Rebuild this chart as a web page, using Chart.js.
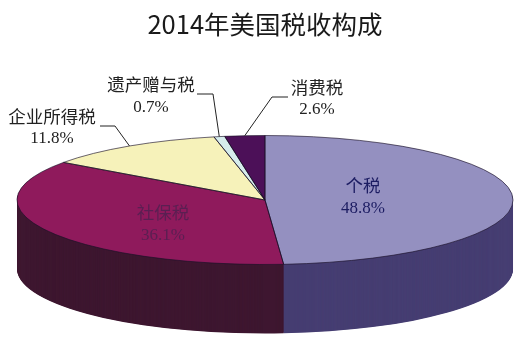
<!DOCTYPE html>
<html>
<head>
<meta charset="utf-8">
<style>html,body{margin:0;padding:0;background:#fff}canvas{display:block}</style>
<script src="https://cdn.jsdelivr.net/npm/chart.js@4"></script>
</head>
<body>
<canvas id="c" width="529" height="353"></canvas>
<script>
const categories = ['个税', '社保税', '企业所得税', '遗产赠与税', '消费税'];
const shares = [48.8, 36.1, 11.8, 0.7, 2.6];
const topColors = ['#9490c0', '#8f1a5c', '#f6f2ba', '#d6ecec', '#4c1058'];
const sideColors = ['#463e72', '#3e1730', '#7a7650', '#6a7676', '#260828'];
const title = '2014年美国税收构成';

// Presentation constants (not data)
const RADIUS = 100, SX = 2.48, SY = 0.645, DEPTH = 69;
const labelAt = [[363, 185, 209], [163, 212, 236], [52, 116, 139], [151, 84, 108], [317, 87, 110]];
const labelInk = ['#1c1c62', '#5a1f52', '#222', '#222', '#222'];
const leaderFrom = [null, null, [[100, 126], [115, 126]], [[197, 94], [213, 94]], [[288, 97], [272, 97]]];

const tiltPlugin = {
  id: 'tilt',
  beforeDatasetsDraw(chart) {
    const ctx = chart.ctx, arcs = chart.getDatasetMeta(0).data;
    const cx = arcs[0].x, cy = arcs[0].y;
    const squash = () => { ctx.translate(cx, cy); ctx.scale(SX, SY); ctx.translate(-cx, -cy); };
    for (let d = DEPTH; d >= 0.5; d -= 0.5) {
      ctx.save();
      ctx.translate(0, d);
      squash();
      arcs.forEach((a, i) => {
        ctx.beginPath();
        ctx.moveTo(a.x, a.y);
        ctx.arc(a.x, a.y, a.outerRadius, a.startAngle, a.endAngle);
        ctx.closePath();
        ctx.fillStyle = sideColors[i];
        ctx.fill();
      });
      ctx.restore();
    }
    ctx.save();
    squash();
  },
  afterDatasetsDraw(chart) {
    const ctx = chart.ctx, arcs = chart.getDatasetMeta(0).data;
    ctx.restore();
    const cx = arcs[0].x, cy = arcs[0].y;
    arcs.forEach(a => {
      ctx.save();
      ctx.translate(cx, cy); ctx.scale(SX, SY); ctx.translate(-cx, -cy);
      ctx.beginPath();
      ctx.moveTo(a.x, a.y);
      ctx.arc(a.x, a.y, a.outerRadius, a.startAngle, a.endAngle);
      ctx.closePath();
      ctx.restore();
      ctx.strokeStyle = 'rgba(25,15,40,0.8)';
      ctx.lineWidth = 0.8;
      ctx.stroke();
    });
    // leader lines
    ctx.strokeStyle = '#222';
    ctx.lineWidth = 1;
    arcs.forEach((a, i) => {
      if (!leaderFrom[i]) return;
      const mid = (a.startAngle + a.endAngle) / 2;
      ctx.beginPath();
      leaderFrom[i].forEach((p, k) => k ? ctx.lineTo(p[0], p[1]) : ctx.moveTo(p[0], p[1]));
      ctx.lineTo(cx + Math.cos(mid) * a.outerRadius * SX, cy + Math.sin(mid) * a.outerRadius * SY);
      ctx.stroke();
    });
    // labels
    ctx.textAlign = 'center';
    ctx.textBaseline = 'middle';
    categories.forEach((name, i) => {
      ctx.fillStyle = labelInk[i];
      ctx.font = '17.5px "Noto Sans CJK SC"';
      ctx.fillText(name, labelAt[i][0], labelAt[i][1]);
      ctx.font = '17px "Liberation Serif"';
      ctx.fillText(shares[i].toFixed(1) + '%', labelAt[i][0], labelAt[i][2]);
    });
  }
};

new Chart(document.getElementById('c'), {
  type: 'pie',
  data: {
    labels: categories,
    datasets: [{ data: shares, backgroundColor: topColors, borderWidth: 0, clip: false }]
  },
  options: {
    responsive: false,
    animation: false,
    radius: RADIUS,
    rotation: 0,
    layout: { padding: { left: 1, bottom: 3 } },
    plugins: {
      legend: { display: false },
      tooltip: { enabled: false },
      title: {
        display: true,
        text: title,
        color: '#1a1a1a',
        font: { family: '"Noto Sans CJK SC"', size: 25.5, weight: 'normal' },
        padding: { top: 9, bottom: 10.4 }
      }
    }
  },
  plugins: [tiltPlugin]
});
</script>
</body>
</html>
